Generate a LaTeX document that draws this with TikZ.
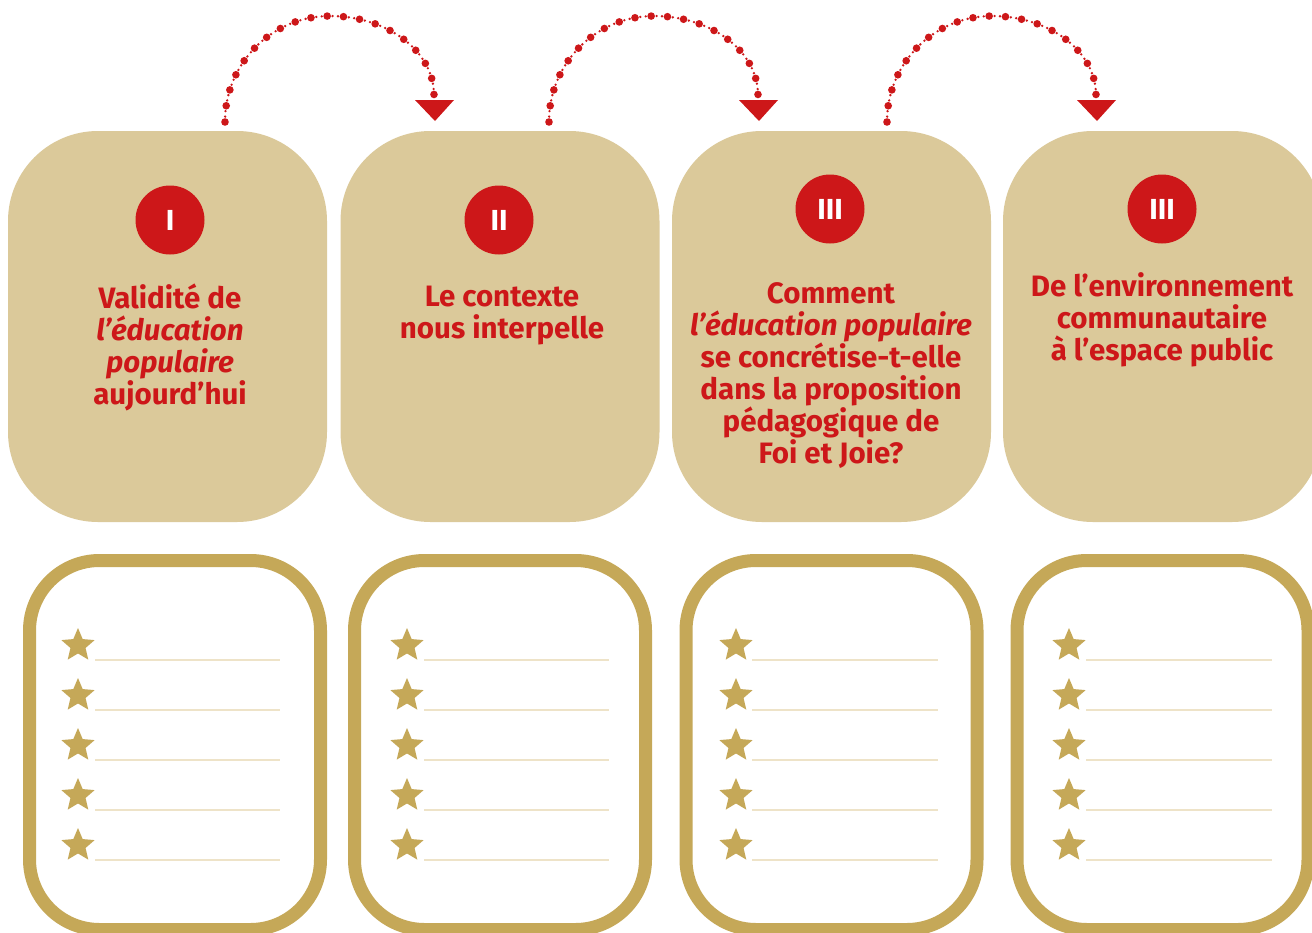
\documentclass[tikz,border=0pt]{standalone}
\usepackage{fontspec}
\setmainfont{Fira Sans}
\usetikzlibrary{shapes.geometric}
\definecolor{fjred}{HTML}{CD1719}
\definecolor{fjtan}{HTML}{DBC99A}
\definecolor{fjgold}{HTML}{C5A858}
\definecolor{fjline}{HTML}{EEE3C8}
\newcommand\topstrut{\rule{0pt}{22.4pt}}
\tikzset{
  topbox/.style={fill=fjtan, rounded corners=90pt, minimum width=319pt, minimum height=391pt, inner sep=0pt},
  botbox/.style={draw=fjgold, line width=13pt, fill=white, rounded corners=70pt, minimum width=291pt, minimum height=369pt, inner sep=0pt},
  numdisc/.style={circle, fill=fjred, minimum size=69pt, inner sep=0pt, text=white, font=\bfseries\fontsize{29}{32}\selectfont},
  titletext/.style={anchor=north, inner sep=0pt, align=center, text=fjred, font=\bfseries\fontsize{29.5}{32}\selectfont},
  starmark/.style={star, star points=5, star point ratio=2.2, fill=fjgold, minimum size=35pt, inner sep=0pt},
  writeline/.style={draw=fjline, line width=1.6pt},
  bigdots/.style={draw=fjred, line width=7.6pt, line cap=round, dash pattern=on 0pt off 16.3pt},
  smalldots/.style={draw=fjred, line width=2.6pt, line cap=round, dash pattern=on 0pt off 5.433pt},
  arrowtri/.style={fill=fjred}
}
\newcommand\dotarrow[2]{%
  \begin{scope}[xshift=#2]
    \coordinate (s#1) at (225,122);
    \coordinate (p#1) at (330,16);
    \coordinate (e#1) at (434,95);
    \coordinate (t#1) at (435,121);
    \draw[smalldots] (s#1) .. controls (225,63) and (272,16) .. (p#1) .. controls (387,16) and (434,51) .. (e#1);
    \draw[bigdots] (s#1) .. controls (225,63) and (272,16) .. (p#1) .. controls (387,16) and (434,51) .. (e#1);
    \fill[arrowtri] (t#1) -- (415,100) -- (454,100) -- cycle;
  \end{scope}}
\newcommand\starlist[4]{% #1 name, #2 star x, #3 line start, #4 line end
  \foreach \k in {0,...,4}{
    \node[starmark] (#1s\k) at (#2,645.5+50*\k) {};
    \draw[writeline] (#3,660+50*\k) -- (#4,660+50*\k);
  }}
\begin{document}
\begin{tikzpicture}[x=1pt,y=-1pt]
\useasboundingbox (0,0) rectangle (1312,932);
\clip (0,0) rectangle (1312,932);
\fill[white] (0,0) rectangle (1312,932);

% top boxes
\node[topbox] (b1) at (167.5,326.5) {};
\node[topbox] (b2) at (500,326.5) {};
\node[topbox] (b3) at (831.5,326.5) {};
\node[topbox] (b4) at (1162.5,326.5) {};

% numbered discs
\node[numdisc] (c1) at (170,220) {I};
\node[numdisc] (c2) at (499,220) {II};
\node[numdisc] (c3) at (830,209) {III};
\node[numdisc] (c4) at (1162,209) {III};

% titles
\node[titletext] (t1) at (170,283.6) {\topstrut Validité de\\\textit{l’éducation}\\\textit{populaire}\\aujourd’hui};
\node[titletext] (t2) at (502,283.6) {\topstrut Le contexte\\nous interpelle};
\node[titletext] (t3) at (831,281) {\topstrut Comment\\\textit{l’éducation populaire}\\se concrétise-t-elle\\dans la proposition\\pédagogique de\\Foi et Joie?};
\node[titletext] (t4) at (1162,272) {\topstrut De l’environnement\\communautaire\\à l’espace public};

% dotted arrows
\dotarrow{1}{0pt}
\dotarrow{2}{324pt}
\dotarrow{3}{662pt}

% bottom boxes
\node[botbox] (l1) at (175,745) {};
\node[botbox] (l2) at (500,745) {};
\node[botbox] (l3) at (831.5,745) {};
\node[botbox] (l4) at (1162.5,745) {};

\starlist{a}{78}{95}{280}
\starlist{b}{407}{424}{609}
\starlist{c}{736}{752}{938}
\starlist{d}{1069}{1086}{1272}
\end{tikzpicture}
\end{document}
